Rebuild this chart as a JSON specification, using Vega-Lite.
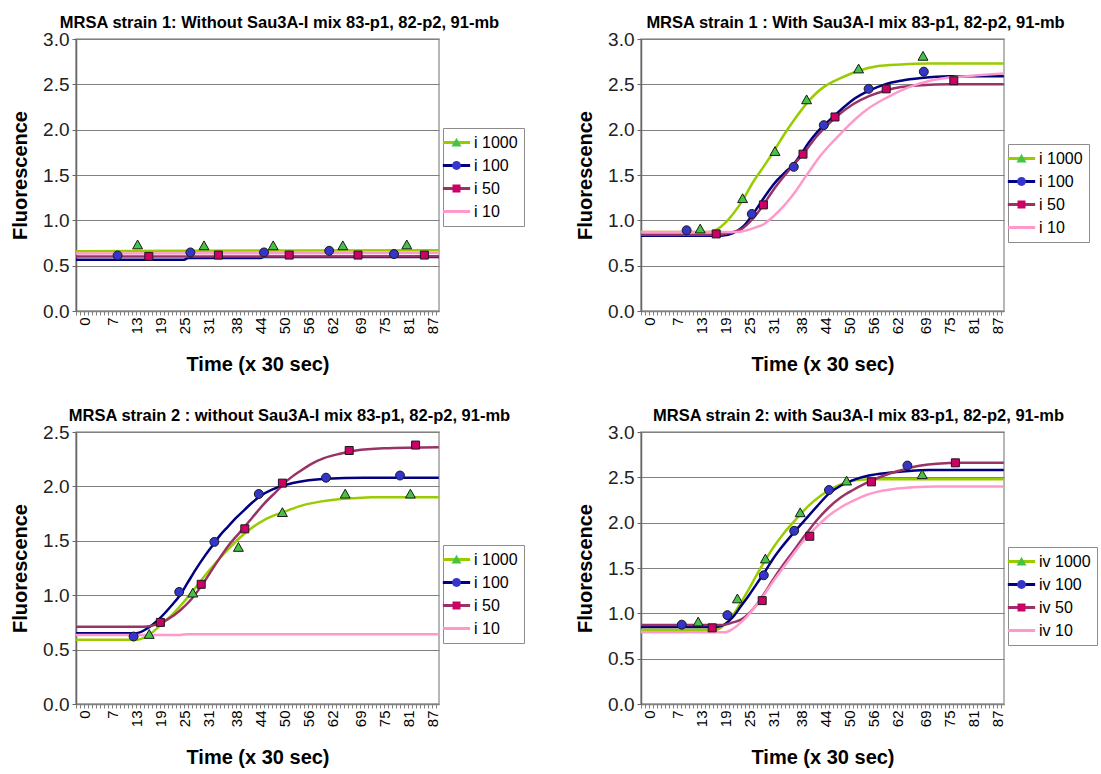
{
  "$schema": "https://vega.github.io/schema/vega-lite/v6.json",
  "background": "white",
  "padding": {"left": 9, "top": 13, "right": 0, "bottom": 0},
  "datasets": {
    "curves": [
      {"p":1,"s":"i 1000","x":-2,"y":0.66},{"p":1,"s":"i 1000","x":25,"y":0.665},{"p":1,"s":"i 1000","x":88.7,"y":0.67},
      {"p":1,"s":"i 100","x":-2,"y":0.565},{"p":1,"s":"i 100","x":25,"y":0.565},{"p":1,"s":"i 100","x":26,"y":0.585},{"p":1,"s":"i 100","x":44,"y":0.585},{"p":1,"s":"i 100","x":45,"y":0.595},{"p":1,"s":"i 100","x":88.7,"y":0.595},
      {"p":1,"s":"i 50","x":-2,"y":0.60},{"p":1,"s":"i 50","x":88.7,"y":0.605},
      {"p":1,"s":"i 10","x":-2,"y":0.635},{"p":1,"s":"i 10","x":88.7,"y":0.64},

      {"p":2,"s":"i 1000","x":-2,"y":0.87},{"p":2,"s":"i 1000","x":15,"y":0.87},{"p":2,"s":"i 1000","x":17,"y":0.9},{"p":2,"s":"i 1000","x":19,"y":0.97},{"p":2,"s":"i 1000","x":21,"y":1.07},{"p":2,"s":"i 1000","x":23.4,"y":1.22},{"p":2,"s":"i 1000","x":26,"y":1.42},{"p":2,"s":"i 1000","x":28,"y":1.55},{"p":2,"s":"i 1000","x":30,"y":1.68},{"p":2,"s":"i 1000","x":32,"y":1.82},{"p":2,"s":"i 1000","x":34,"y":1.96},{"p":2,"s":"i 1000","x":36,"y":2.09},{"p":2,"s":"i 1000","x":38,"y":2.21},{"p":2,"s":"i 1000","x":40,"y":2.32},{"p":2,"s":"i 1000","x":42,"y":2.41},{"p":2,"s":"i 1000","x":44,"y":2.48},{"p":2,"s":"i 1000","x":48,"y":2.57},{"p":2,"s":"i 1000","x":52.4,"y":2.65},{"p":2,"s":"i 1000","x":57,"y":2.7},{"p":2,"s":"i 1000","x":63,"y":2.72},{"p":2,"s":"i 1000","x":70,"y":2.73},{"p":2,"s":"i 1000","x":88.7,"y":2.73},
      {"p":2,"s":"i 100","x":-2,"y":0.83},{"p":2,"s":"i 100","x":18,"y":0.83},{"p":2,"s":"i 100","x":21,"y":0.86},{"p":2,"s":"i 100","x":23.5,"y":0.93},{"p":2,"s":"i 100","x":25.7,"y":1.05},{"p":2,"s":"i 100","x":28,"y":1.2},{"p":2,"s":"i 100","x":30,"y":1.33},{"p":2,"s":"i 100","x":32,"y":1.44},{"p":2,"s":"i 100","x":34,"y":1.53},{"p":2,"s":"i 100","x":36,"y":1.61},{"p":2,"s":"i 100","x":38,"y":1.73},{"p":2,"s":"i 100","x":40,"y":1.86},{"p":2,"s":"i 100","x":42,"y":1.97},{"p":2,"s":"i 100","x":44,"y":2.06},{"p":2,"s":"i 100","x":46,"y":2.14},{"p":2,"s":"i 100","x":48,"y":2.22},{"p":2,"s":"i 100","x":51,"y":2.33},{"p":2,"s":"i 100","x":55,"y":2.43},{"p":2,"s":"i 100","x":59,"y":2.5},{"p":2,"s":"i 100","x":63,"y":2.54},{"p":2,"s":"i 100","x":68,"y":2.57},{"p":2,"s":"i 100","x":75,"y":2.59},{"p":2,"s":"i 100","x":88.7,"y":2.59},
      {"p":2,"s":"i 50","x":-2,"y":0.84},{"p":2,"s":"i 50","x":17,"y":0.84},{"p":2,"s":"i 50","x":20,"y":0.86},{"p":2,"s":"i 50","x":23,"y":0.9},{"p":2,"s":"i 50","x":26,"y":1.02},{"p":2,"s":"i 50","x":28.6,"y":1.17},{"p":2,"s":"i 50","x":31,"y":1.33},{"p":2,"s":"i 50","x":34,"y":1.5},{"p":2,"s":"i 50","x":36.5,"y":1.63},{"p":2,"s":"i 50","x":38.5,"y":1.73},{"p":2,"s":"i 50","x":42,"y":1.93},{"p":2,"s":"i 50","x":46.5,"y":2.13},{"p":2,"s":"i 50","x":51,"y":2.28},{"p":2,"s":"i 50","x":55,"y":2.37},{"p":2,"s":"i 50","x":59,"y":2.43},{"p":2,"s":"i 50","x":63,"y":2.47},{"p":2,"s":"i 50","x":68,"y":2.49},{"p":2,"s":"i 50","x":75,"y":2.5},{"p":2,"s":"i 50","x":88.7,"y":2.5},
      {"p":2,"s":"i 10","x":-2,"y":0.87},{"p":2,"s":"i 10","x":22,"y":0.87},{"p":2,"s":"i 10","x":24.4,"y":0.89},{"p":2,"s":"i 10","x":26.5,"y":0.92},{"p":2,"s":"i 10","x":28.8,"y":0.96},{"p":2,"s":"i 10","x":30.5,"y":1.02},{"p":2,"s":"i 10","x":32.4,"y":1.1},{"p":2,"s":"i 10","x":34.5,"y":1.2},{"p":2,"s":"i 10","x":36.8,"y":1.33},{"p":2,"s":"i 10","x":38.8,"y":1.46},{"p":2,"s":"i 10","x":40.7,"y":1.58},{"p":2,"s":"i 10","x":43,"y":1.72},{"p":2,"s":"i 10","x":45.6,"y":1.85},{"p":2,"s":"i 10","x":48,"y":1.96},{"p":2,"s":"i 10","x":50,"y":2.05},{"p":2,"s":"i 10","x":54.4,"y":2.22},{"p":2,"s":"i 10","x":59.7,"y":2.36},{"p":2,"s":"i 10","x":65,"y":2.47},{"p":2,"s":"i 10","x":70.3,"y":2.54},{"p":2,"s":"i 10","x":76.5,"y":2.58},{"p":2,"s":"i 10","x":82,"y":2.6},{"p":2,"s":"i 10","x":88.7,"y":2.62},

      {"p":3,"s":"i 1000","x":-2,"y":0.59},{"p":3,"s":"i 1000","x":13,"y":0.59},{"p":3,"s":"i 1000","x":16,"y":0.63},{"p":3,"s":"i 1000","x":19,"y":0.72},{"p":3,"s":"i 1000","x":22,"y":0.82},{"p":3,"s":"i 1000","x":25,"y":0.94},{"p":3,"s":"i 1000","x":27,"y":1.03},{"p":3,"s":"i 1000","x":30,"y":1.17},{"p":3,"s":"i 1000","x":33,"y":1.3},{"p":3,"s":"i 1000","x":36,"y":1.42},{"p":3,"s":"i 1000","x":39,"y":1.53},{"p":3,"s":"i 1000","x":42,"y":1.62},{"p":3,"s":"i 1000","x":45,"y":1.69},{"p":3,"s":"i 1000","x":48,"y":1.74},{"p":3,"s":"i 1000","x":51,"y":1.78},{"p":3,"s":"i 1000","x":55,"y":1.83},{"p":3,"s":"i 1000","x":59,"y":1.86},{"p":3,"s":"i 1000","x":63,"y":1.88},{"p":3,"s":"i 1000","x":67,"y":1.89},{"p":3,"s":"i 1000","x":72,"y":1.9},{"p":3,"s":"i 1000","x":88.7,"y":1.9},
      {"p":3,"s":"i 100","x":-2,"y":0.65},{"p":3,"s":"i 100","x":13,"y":0.65},{"p":3,"s":"i 100","x":16,"y":0.7},{"p":3,"s":"i 100","x":19,"y":0.79},{"p":3,"s":"i 100","x":22,"y":0.91},{"p":3,"s":"i 100","x":24,"y":1.0},{"p":3,"s":"i 100","x":26,"y":1.12},{"p":3,"s":"i 100","x":28,"y":1.24},{"p":3,"s":"i 100","x":30,"y":1.35},{"p":3,"s":"i 100","x":32,"y":1.45},{"p":3,"s":"i 100","x":34,"y":1.55},{"p":3,"s":"i 100","x":36,"y":1.63},{"p":3,"s":"i 100","x":38,"y":1.71},{"p":3,"s":"i 100","x":40,"y":1.78},{"p":3,"s":"i 100","x":42,"y":1.85},{"p":3,"s":"i 100","x":44,"y":1.91},{"p":3,"s":"i 100","x":47,"y":1.97},{"p":3,"s":"i 100","x":50,"y":2.01},{"p":3,"s":"i 100","x":55,"y":2.05},{"p":3,"s":"i 100","x":60.5,"y":2.07},{"p":3,"s":"i 100","x":70,"y":2.08},{"p":3,"s":"i 100","x":88.7,"y":2.08},
      {"p":3,"s":"i 50","x":-2,"y":0.71},{"p":3,"s":"i 50","x":15,"y":0.71},{"p":3,"s":"i 50","x":18,"y":0.73},{"p":3,"s":"i 50","x":21,"y":0.78},{"p":3,"s":"i 50","x":24,"y":0.86},{"p":3,"s":"i 50","x":27,"y":0.97},{"p":3,"s":"i 50","x":30,"y":1.12},{"p":3,"s":"i 50","x":33,"y":1.29},{"p":3,"s":"i 50","x":36,"y":1.45},{"p":3,"s":"i 50","x":39,"y":1.58},{"p":3,"s":"i 50","x":42,"y":1.71},{"p":3,"s":"i 50","x":45,"y":1.84},{"p":3,"s":"i 50","x":48,"y":1.95},{"p":3,"s":"i 50","x":51,"y":2.06},{"p":3,"s":"i 50","x":54,"y":2.14},{"p":3,"s":"i 50","x":57,"y":2.21},{"p":3,"s":"i 50","x":60,"y":2.26},{"p":3,"s":"i 50","x":64,"y":2.3},{"p":3,"s":"i 50","x":68,"y":2.33},{"p":3,"s":"i 50","x":75,"y":2.35},{"p":3,"s":"i 50","x":88.7,"y":2.36},
      {"p":3,"s":"i 10","x":-2,"y":0.635},{"p":3,"s":"i 10","x":24,"y":0.635},{"p":3,"s":"i 10","x":26,"y":0.642},{"p":3,"s":"i 10","x":88.7,"y":0.642},

      {"p":4,"s":"iv 1000","x":-2,"y":0.82},{"p":4,"s":"iv 1000","x":17,"y":0.82},{"p":4,"s":"iv 1000","x":19,"y":0.88},{"p":4,"s":"iv 1000","x":21,"y":0.98},{"p":4,"s":"iv 1000","x":23,"y":1.12},{"p":4,"s":"iv 1000","x":25,"y":1.27},{"p":4,"s":"iv 1000","x":27,"y":1.43},{"p":4,"s":"iv 1000","x":29,"y":1.58},{"p":4,"s":"iv 1000","x":31,"y":1.72},{"p":4,"s":"iv 1000","x":34,"y":1.9},{"p":4,"s":"iv 1000","x":37,"y":2.05},{"p":4,"s":"iv 1000","x":40,"y":2.19},{"p":4,"s":"iv 1000","x":43,"y":2.3},{"p":4,"s":"iv 1000","x":46,"y":2.38},{"p":4,"s":"iv 1000","x":49,"y":2.44},{"p":4,"s":"iv 1000","x":52,"y":2.47},{"p":4,"s":"iv 1000","x":56,"y":2.48},{"p":4,"s":"iv 1000","x":88.7,"y":2.48},
      {"p":4,"s":"iv 100","x":-2,"y":0.85},{"p":4,"s":"iv 100","x":17,"y":0.85},{"p":4,"s":"iv 100","x":19,"y":0.88},{"p":4,"s":"iv 100","x":21,"y":0.96},{"p":4,"s":"iv 100","x":23,"y":1.08},{"p":4,"s":"iv 100","x":25,"y":1.2},{"p":4,"s":"iv 100","x":27,"y":1.33},{"p":4,"s":"iv 100","x":29,"y":1.46},{"p":4,"s":"iv 100","x":31,"y":1.6},{"p":4,"s":"iv 100","x":33,"y":1.72},{"p":4,"s":"iv 100","x":36,"y":1.88},{"p":4,"s":"iv 100","x":39,"y":2.03},{"p":4,"s":"iv 100","x":42,"y":2.18},{"p":4,"s":"iv 100","x":45,"y":2.32},{"p":4,"s":"iv 100","x":48,"y":2.41},{"p":4,"s":"iv 100","x":51,"y":2.47},{"p":4,"s":"iv 100","x":55,"y":2.52},{"p":4,"s":"iv 100","x":60,"y":2.55},{"p":4,"s":"iv 100","x":65,"y":2.57},{"p":4,"s":"iv 100","x":70,"y":2.58},{"p":4,"s":"iv 100","x":88.7,"y":2.58},
      {"p":4,"s":"iv 50","x":-2,"y":0.87},{"p":4,"s":"iv 50","x":18,"y":0.87},{"p":4,"s":"iv 50","x":21,"y":0.9},{"p":4,"s":"iv 50","x":23,"y":0.93},{"p":4,"s":"iv 50","x":25,"y":1.0},{"p":4,"s":"iv 50","x":27,"y":1.1},{"p":4,"s":"iv 50","x":29,"y":1.23},{"p":4,"s":"iv 50","x":31,"y":1.37},{"p":4,"s":"iv 50","x":33,"y":1.5},{"p":4,"s":"iv 50","x":36,"y":1.68},{"p":4,"s":"iv 50","x":39,"y":1.86},{"p":4,"s":"iv 50","x":42,"y":2.03},{"p":4,"s":"iv 50","x":45,"y":2.17},{"p":4,"s":"iv 50","x":48,"y":2.28},{"p":4,"s":"iv 50","x":51,"y":2.36},{"p":4,"s":"iv 50","x":54,"y":2.43},{"p":4,"s":"iv 50","x":57,"y":2.49},{"p":4,"s":"iv 50","x":60,"y":2.54},{"p":4,"s":"iv 50","x":64,"y":2.59},{"p":4,"s":"iv 50","x":68,"y":2.63},{"p":4,"s":"iv 50","x":72,"y":2.65},{"p":4,"s":"iv 50","x":78,"y":2.66},{"p":4,"s":"iv 50","x":88.7,"y":2.66},
      {"p":4,"s":"iv 10","x":-2,"y":0.79},{"p":4,"s":"iv 10","x":19,"y":0.79},{"p":4,"s":"iv 10","x":21,"y":0.83},{"p":4,"s":"iv 10","x":23,"y":0.9},{"p":4,"s":"iv 10","x":25,"y":0.99},{"p":4,"s":"iv 10","x":27,"y":1.1},{"p":4,"s":"iv 10","x":29,"y":1.22},{"p":4,"s":"iv 10","x":31,"y":1.35},{"p":4,"s":"iv 10","x":33,"y":1.47},{"p":4,"s":"iv 10","x":36,"y":1.65},{"p":4,"s":"iv 10","x":39,"y":1.82},{"p":4,"s":"iv 10","x":42,"y":1.96},{"p":4,"s":"iv 10","x":45,"y":2.08},{"p":4,"s":"iv 10","x":48,"y":2.17},{"p":4,"s":"iv 10","x":51,"y":2.24},{"p":4,"s":"iv 10","x":54,"y":2.3},{"p":4,"s":"iv 10","x":57,"y":2.34},{"p":4,"s":"iv 10","x":61,"y":2.37},{"p":4,"s":"iv 10","x":66,"y":2.39},{"p":4,"s":"iv 10","x":72,"y":2.4},{"p":4,"s":"iv 10","x":88.7,"y":2.4}
    ],
    "markers": [
      {"p":1,"m":"m1000","x":13.4,"y":0.73},{"p":1,"m":"m1000","x":30,"y":0.72},{"p":1,"m":"m1000","x":47.3,"y":0.72},{"p":1,"m":"m1000","x":64.7,"y":0.72},{"p":1,"m":"m1000","x":80.7,"y":0.73},
      {"p":1,"m":"m100","x":8.4,"y":0.613},{"p":1,"m":"m100","x":26.6,"y":0.646},{"p":1,"m":"m100","x":45,"y":0.646},{"p":1,"m":"m100","x":61.3,"y":0.664},{"p":1,"m":"m100","x":77.5,"y":0.628},
      {"p":1,"m":"m50","x":16.2,"y":0.602},{"p":1,"m":"m50","x":33.6,"y":0.617},{"p":1,"m":"m50","x":51.3,"y":0.617},{"p":1,"m":"m50","x":68.5,"y":0.617},{"p":1,"m":"m50","x":85.1,"y":0.617},

      {"p":2,"m":"m1000","x":12.8,"y":0.905},{"p":2,"m":"m1000","x":23.4,"y":1.24},{"p":2,"m":"m1000","x":31.5,"y":1.76},{"p":2,"m":"m1000","x":39.4,"y":2.33},{"p":2,"m":"m1000","x":52.4,"y":2.67},{"p":2,"m":"m1000","x":68.5,"y":2.81},
      {"p":2,"m":"m100","x":9.4,"y":0.89},{"p":2,"m":"m100","x":25.7,"y":1.07},{"p":2,"m":"m100","x":36.2,"y":1.59},{"p":2,"m":"m100","x":43.7,"y":2.05},{"p":2,"m":"m100","x":54.9,"y":2.45},{"p":2,"m":"m100","x":68.7,"y":2.64},
      {"p":2,"m":"m50","x":16.8,"y":0.85},{"p":2,"m":"m50","x":28.6,"y":1.17},{"p":2,"m":"m50","x":38.5,"y":1.73},{"p":2,"m":"m50","x":46.5,"y":2.14},{"p":2,"m":"m50","x":59.3,"y":2.45},{"p":2,"m":"m50","x":76.2,"y":2.54},

      {"p":3,"m":"m1000","x":16.3,"y":0.64},{"p":3,"m":"m1000","x":27.2,"y":1.02},{"p":3,"m":"m1000","x":38.6,"y":1.44},{"p":3,"m":"m1000","x":49.6,"y":1.76},{"p":3,"m":"m1000","x":65.3,"y":1.93},{"p":3,"m":"m1000","x":81.6,"y":1.93},
      {"p":3,"m":"m100","x":12.4,"y":0.62},{"p":3,"m":"m100","x":23.8,"y":1.03},{"p":3,"m":"m100","x":32.6,"y":1.49},{"p":3,"m":"m100","x":43.7,"y":1.93},{"p":3,"m":"m100","x":60.5,"y":2.08},{"p":3,"m":"m100","x":79,"y":2.1},
      {"p":3,"m":"m50","x":19.1,"y":0.75},{"p":3,"m":"m50","x":29.3,"y":1.1},{"p":3,"m":"m50","x":40.2,"y":1.61},{"p":3,"m":"m50","x":49.6,"y":2.03},{"p":3,"m":"m50","x":66.3,"y":2.33},{"p":3,"m":"m50","x":82.9,"y":2.38},

      {"p":4,"m":"m1000","x":12.3,"y":0.905},{"p":4,"m":"m1000","x":22.1,"y":1.16},{"p":4,"m":"m1000","x":29.1,"y":1.6},{"p":4,"m":"m1000","x":37.8,"y":2.11},{"p":4,"m":"m1000","x":49.4,"y":2.46},{"p":4,"m":"m1000","x":68.3,"y":2.53},
      {"p":4,"m":"m100","x":8.2,"y":0.875},{"p":4,"m":"m100","x":19.6,"y":0.98},{"p":4,"m":"m100","x":28.7,"y":1.42},{"p":4,"m":"m100","x":36.3,"y":1.91},{"p":4,"m":"m100","x":45,"y":2.36},{"p":4,"m":"m100","x":64.6,"y":2.63},
      {"p":4,"m":"m50","x":15.8,"y":0.84},{"p":4,"m":"m50","x":28.3,"y":1.14},{"p":4,"m":"m50","x":40.2,"y":1.85},{"p":4,"m":"m50","x":55.6,"y":2.45},{"p":4,"m":"m50","x":76.6,"y":2.66}
    ]
  },
  "columns": 2,
  "spacing": {"row": 121, "column": 202},
  "bounds": "flush",
  "resolve": {
    "scale": {"x": "independent", "y": "independent", "stroke": "independent", "fill": "independent", "shape": "independent"},
    "axis": {"x": "independent", "y": "independent"},
    "legend": {"stroke": "independent", "fill": "independent", "shape": "independent"}
  },
  "concat": [
    {
      "width": 363, "height": 272,
      "title": {"text": "MRSA strain 1: Without Sau3A-I mix 83-p1, 82-p2, 91-mb", "dx": 22},
      "layer": [
        {
          "data": {"name": "curves"}, "transform": [{"filter": "datum.p == 1"}],
          "mark": {"type": "line", "interpolate": "monotone", "strokeWidth": 2.5},
          "encoding": {
            "x": {"field": "x", "type": "quantitative", "title": "Time (x 30 sec)", "scale": {"domain": [-2, 88.75], "nice": false, "zero": false},
                  "axis": {"tickCount": 200, "format": "d", "values": [-2,-1,0,1,2,3,4,5,6,7,8,9,10,11,12,13,14,15,16,17,18,19,20,21,22,23,24,25,26,27,28,29,30,31,32,33,34,35,36,37,38,39,40,41,42,43,44,45,46,47,48,49,50,51,52,53,54,55,56,57,58,59,60,61,62,63,64,65,66,67,68,69,70,71,72,73,74,75,76,77,78,79,80,81,82,83,84,85,86,87,88], "labelExpr": "indexof([0,7,13,19,25,31,38,44,50,56,62,69,75,81,87], datum.value) >= 0 ? datum.label : ''"}},
            "y": {"field": "y", "type": "quantitative", "title": "Fluorescence", "scale": {"domain": [0, 3], "nice": false},
                  "axis": {"values": [0,0.5,1,1.5,2,2.5,3], "format": ".1f"}},
            "stroke": {"field": "s", "type": "nominal", "sort": null,
                       "scale": {"domain": ["i 1000","i 100","i 50","i 10"], "range": ["#99cc00","#000080","#993366","#ff99cc"]},
                       "legend": {"orient": "none", "legendX": 367, "legendY": 89, "title": null, "fillColor": "#ffffff", "strokeColor": "#8c8c8c", "symbolType": "M-1.95,0H1.95", "symbolSize": 196, "symbolStrokeWidth": 3, "symbolOffset": -1, "labelOffset": 9, "padding": 6, "rowPadding": 6}}
          }
        },
        {
          "data": {"name": "markers"}, "transform": [{"filter": "datum.p == 1"}],
          "mark": {"type": "point", "filled": true, "size": 256, "stroke": "#1a1a1a", "strokeWidth": 1, "opacity": 1},
          "encoding": {
            "x": {"field": "x", "type": "quantitative"},
            "y": {"field": "y", "type": "quantitative"},
            "fill": {"field": "m", "type": "nominal", "sort": null,
                     "scale": {"domain": ["m1000","m100","m50","m10"], "range": ["#44c444","#3535cc","#cc0066","transparent"]},
                     "legend": {"orient": "none", "legendX": 367, "legendY": 89, "title": null, "labelExpr": "''", "symbolSize": 256, "symbolStrokeColor": "#1a1a1a", "symbolStrokeWidth": 1, "symbolOffset": -1, "labelOffset": 9, "padding": 6, "rowPadding": 6}},
            "shape": {"field": "m", "type": "nominal", "sort": null,
                      "scale": {"domain": ["m1000","m100","m50","m10"], "range": ["M0,-0.6L0.62,0.5L-0.62,0.5Z","M0.56,0A0.56,0.56,0,1,1,-0.56,0A0.56,0.56,0,1,1,0.56,0Z","M-0.5,-0.5H0.5V0.5H-0.5Z","M0,0"]},
                      "legend": {"orient": "none", "legendX": 367, "legendY": 89, "title": null, "labelExpr": "''", "symbolSize": 256, "symbolStrokeColor": "#1a1a1a", "symbolStrokeWidth": 1, "symbolOffset": -1, "labelOffset": 9, "padding": 6, "rowPadding": 6}}
          }
        }
      ]
    },
    {
      "width": 363, "height": 272,
      "title": {"text": "MRSA strain 1 : With Sau3A-I mix 83-p1, 82-p2, 91-mb", "dx": 33},
      "layer": [
        {
          "data": {"name": "curves"}, "transform": [{"filter": "datum.p == 2"}],
          "mark": {"type": "line", "interpolate": "monotone", "strokeWidth": 2.5},
          "encoding": {
            "x": {"field": "x", "type": "quantitative", "title": "Time (x 30 sec)", "scale": {"domain": [-2, 88.75], "nice": false, "zero": false},
                  "axis": {"tickCount": 200, "format": "d", "values": [-2,-1,0,1,2,3,4,5,6,7,8,9,10,11,12,13,14,15,16,17,18,19,20,21,22,23,24,25,26,27,28,29,30,31,32,33,34,35,36,37,38,39,40,41,42,43,44,45,46,47,48,49,50,51,52,53,54,55,56,57,58,59,60,61,62,63,64,65,66,67,68,69,70,71,72,73,74,75,76,77,78,79,80,81,82,83,84,85,86,87,88], "labelExpr": "indexof([0,7,13,19,25,31,38,44,50,56,62,69,75,81,87], datum.value) >= 0 ? datum.label : ''"}},
            "y": {"field": "y", "type": "quantitative", "title": "Fluorescence", "scale": {"domain": [0, 3], "nice": false},
                  "axis": {"values": [0,0.5,1,1.5,2,2.5,3], "format": ".1f"}},
            "stroke": {"field": "s", "type": "nominal", "sort": null,
                       "scale": {"domain": ["i 1000","i 100","i 50","i 10"], "range": ["#99cc00","#000080","#993366","#ff99cc"]},
                       "legend": {"orient": "none", "legendX": 367, "legendY": 105, "title": null, "fillColor": "#ffffff", "strokeColor": "#8c8c8c", "symbolType": "M-1.95,0H1.95", "symbolSize": 196, "symbolStrokeWidth": 3, "symbolOffset": -1, "labelOffset": 9, "padding": 6, "rowPadding": 6}}
          }
        },
        {
          "data": {"name": "markers"}, "transform": [{"filter": "datum.p == 2"}],
          "mark": {"type": "point", "filled": true, "size": 256, "stroke": "#1a1a1a", "strokeWidth": 1, "opacity": 1},
          "encoding": {
            "x": {"field": "x", "type": "quantitative"},
            "y": {"field": "y", "type": "quantitative"},
            "fill": {"field": "m", "type": "nominal", "sort": null,
                     "scale": {"domain": ["m1000","m100","m50","m10"], "range": ["#44c444","#3535cc","#cc0066","transparent"]},
                     "legend": {"orient": "none", "legendX": 367, "legendY": 105, "title": null, "labelExpr": "''", "symbolSize": 256, "symbolStrokeColor": "#1a1a1a", "symbolStrokeWidth": 1, "symbolOffset": -1, "labelOffset": 9, "padding": 6, "rowPadding": 6}},
            "shape": {"field": "m", "type": "nominal", "sort": null,
                      "scale": {"domain": ["m1000","m100","m50","m10"], "range": ["M0,-0.6L0.62,0.5L-0.62,0.5Z","M0.56,0A0.56,0.56,0,1,1,-0.56,0A0.56,0.56,0,1,1,0.56,0Z","M-0.5,-0.5H0.5V0.5H-0.5Z","M0,0"]},
                      "legend": {"orient": "none", "legendX": 367, "legendY": 105, "title": null, "labelExpr": "''", "symbolSize": 256, "symbolStrokeColor": "#1a1a1a", "symbolStrokeWidth": 1, "symbolOffset": -1, "labelOffset": 9, "padding": 6, "rowPadding": 6}}
          }
        }
      ]
    },
    {
      "width": 363, "height": 272,
      "title": {"text": "MRSA strain 2 : without Sau3A-I mix 83-p1, 82-p2, 91-mb", "dx": 32},
      "layer": [
        {
          "data": {"name": "curves"}, "transform": [{"filter": "datum.p == 3"}],
          "mark": {"type": "line", "interpolate": "monotone", "strokeWidth": 2.5},
          "encoding": {
            "x": {"field": "x", "type": "quantitative", "title": "Time (x 30 sec)", "scale": {"domain": [-2, 88.75], "nice": false, "zero": false},
                  "axis": {"tickCount": 200, "format": "d", "values": [-2,-1,0,1,2,3,4,5,6,7,8,9,10,11,12,13,14,15,16,17,18,19,20,21,22,23,24,25,26,27,28,29,30,31,32,33,34,35,36,37,38,39,40,41,42,43,44,45,46,47,48,49,50,51,52,53,54,55,56,57,58,59,60,61,62,63,64,65,66,67,68,69,70,71,72,73,74,75,76,77,78,79,80,81,82,83,84,85,86,87,88], "labelExpr": "indexof([0,7,13,19,25,31,38,44,50,56,62,69,75,81,87], datum.value) >= 0 ? datum.label : ''"}},
            "y": {"field": "y", "type": "quantitative", "title": "Fluorescence", "scale": {"domain": [0, 2.5], "nice": false},
                  "axis": {"values": [0,0.5,1,1.5,2,2.5], "format": ".1f"}},
            "stroke": {"field": "s", "type": "nominal", "sort": null,
                       "scale": {"domain": ["i 1000","i 100","i 50","i 10"], "range": ["#99cc00","#000080","#993366","#ff99cc"]},
                       "legend": {"orient": "none", "legendX": 367, "legendY": 113, "title": null, "fillColor": "#ffffff", "strokeColor": "#8c8c8c", "symbolType": "M-1.95,0H1.95", "symbolSize": 196, "symbolStrokeWidth": 3, "symbolOffset": -1, "labelOffset": 9, "padding": 6, "rowPadding": 6}}
          }
        },
        {
          "data": {"name": "markers"}, "transform": [{"filter": "datum.p == 3"}],
          "mark": {"type": "point", "filled": true, "size": 256, "stroke": "#1a1a1a", "strokeWidth": 1, "opacity": 1},
          "encoding": {
            "x": {"field": "x", "type": "quantitative"},
            "y": {"field": "y", "type": "quantitative"},
            "fill": {"field": "m", "type": "nominal", "sort": null,
                     "scale": {"domain": ["m1000","m100","m50","m10"], "range": ["#44c444","#3535cc","#cc0066","transparent"]},
                     "legend": {"orient": "none", "legendX": 367, "legendY": 113, "title": null, "labelExpr": "''", "symbolSize": 256, "symbolStrokeColor": "#1a1a1a", "symbolStrokeWidth": 1, "symbolOffset": -1, "labelOffset": 9, "padding": 6, "rowPadding": 6}},
            "shape": {"field": "m", "type": "nominal", "sort": null,
                      "scale": {"domain": ["m1000","m100","m50","m10"], "range": ["M0,-0.6L0.62,0.5L-0.62,0.5Z","M0.56,0A0.56,0.56,0,1,1,-0.56,0A0.56,0.56,0,1,1,0.56,0Z","M-0.5,-0.5H0.5V0.5H-0.5Z","M0,0"]},
                      "legend": {"orient": "none", "legendX": 367, "legendY": 113, "title": null, "labelExpr": "''", "symbolSize": 256, "symbolStrokeColor": "#1a1a1a", "symbolStrokeWidth": 1, "symbolOffset": -1, "labelOffset": 9, "padding": 6, "rowPadding": 6}}
          }
        }
      ]
    },
    {
      "width": 363, "height": 272,
      "title": {"text": "MRSA strain 2: with Sau3A-I mix 83-p1, 82-p2, 91-mb", "dx": 36},
      "layer": [
        {
          "data": {"name": "curves"}, "transform": [{"filter": "datum.p == 4"}],
          "mark": {"type": "line", "interpolate": "monotone", "strokeWidth": 2.5},
          "encoding": {
            "x": {"field": "x", "type": "quantitative", "title": "Time (x 30 sec)", "scale": {"domain": [-2, 88.75], "nice": false, "zero": false},
                  "axis": {"tickCount": 200, "format": "d", "values": [-2,-1,0,1,2,3,4,5,6,7,8,9,10,11,12,13,14,15,16,17,18,19,20,21,22,23,24,25,26,27,28,29,30,31,32,33,34,35,36,37,38,39,40,41,42,43,44,45,46,47,48,49,50,51,52,53,54,55,56,57,58,59,60,61,62,63,64,65,66,67,68,69,70,71,72,73,74,75,76,77,78,79,80,81,82,83,84,85,86,87,88], "labelExpr": "indexof([0,7,13,19,25,31,38,44,50,56,62,69,75,81,87], datum.value) >= 0 ? datum.label : ''"}},
            "y": {"field": "y", "type": "quantitative", "title": "Fluorescence", "scale": {"domain": [0, 3], "nice": false},
                  "axis": {"values": [0,0.5,1,1.5,2,2.5,3], "format": ".1f"}},
            "stroke": {"field": "s", "type": "nominal", "sort": null,
                       "scale": {"domain": ["iv 1000","iv 100","iv 50","iv 10"], "range": ["#99cc00","#000080","#993366","#ff99cc"]},
                       "legend": {"orient": "none", "legendX": 367, "legendY": 115, "title": null, "fillColor": "#ffffff", "strokeColor": "#8c8c8c", "symbolType": "M-1.95,0H1.95", "symbolSize": 196, "symbolStrokeWidth": 3, "symbolOffset": -1, "labelOffset": 9, "padding": 6, "rowPadding": 6}}
          }
        },
        {
          "data": {"name": "markers"}, "transform": [{"filter": "datum.p == 4"}],
          "mark": {"type": "point", "filled": true, "size": 256, "stroke": "#1a1a1a", "strokeWidth": 1, "opacity": 1},
          "encoding": {
            "x": {"field": "x", "type": "quantitative"},
            "y": {"field": "y", "type": "quantitative"},
            "fill": {"field": "m", "type": "nominal", "sort": null,
                     "scale": {"domain": ["m1000","m100","m50","m10"], "range": ["#44c444","#3535cc","#cc0066","transparent"]},
                     "legend": {"orient": "none", "legendX": 367, "legendY": 115, "title": null, "labelExpr": "''", "symbolSize": 256, "symbolStrokeColor": "#1a1a1a", "symbolStrokeWidth": 1, "symbolOffset": -1, "labelOffset": 9, "padding": 6, "rowPadding": 6}},
            "shape": {"field": "m", "type": "nominal", "sort": null,
                      "scale": {"domain": ["m1000","m100","m50","m10"], "range": ["M0,-0.6L0.62,0.5L-0.62,0.5Z","M0.56,0A0.56,0.56,0,1,1,-0.56,0A0.56,0.56,0,1,1,0.56,0Z","M-0.5,-0.5H0.5V0.5H-0.5Z","M0,0"]},
                      "legend": {"orient": "none", "legendX": 367, "legendY": 115, "title": null, "labelExpr": "''", "symbolSize": 256, "symbolStrokeColor": "#1a1a1a", "symbolStrokeWidth": 1, "symbolOffset": -1, "labelOffset": 9, "padding": 6, "rowPadding": 6}}
          }
        }
      ]
    }
  ],
  "config": {
    "font": "Liberation Sans",
    "view": {"stroke": "#a0a0a0", "strokeWidth": 1.5},
    "title": {"fontSize": 16.5, "fontWeight": "bold", "color": "#000000", "anchor": "middle", "offset": -1},
    "axisX": {"grid": false, "tickSize": 4, "tickColor": "#808080", "domainColor": "#808080", "domainWidth": 1.5, "labelAngle": 270, "labelFontSize": 15, "labelColor": "#000000", "labelOverlap": false, "labelFlush": false, "labelPadding": 2, "titleFontSize": 20, "titleFontWeight": "bold", "titleColor": "#000000", "titlePadding": 21},
    "axisY": {"grid": true, "gridColor": "#808080", "gridWidth": 1.2, "tickSize": 4, "tickColor": "#666666", "domainColor": "#666666", "domainWidth": 1.5, "labelFontSize": 19, "labelColor": "#222222", "labelPadding": 3, "titleFontSize": 20, "titleFontWeight": "bold", "titleColor": "#000000", "titlePadding": 12},
    "legend": {"labelFontSize": 16, "labelColor": "#000000", "labelLimit": 200}
  }
}
